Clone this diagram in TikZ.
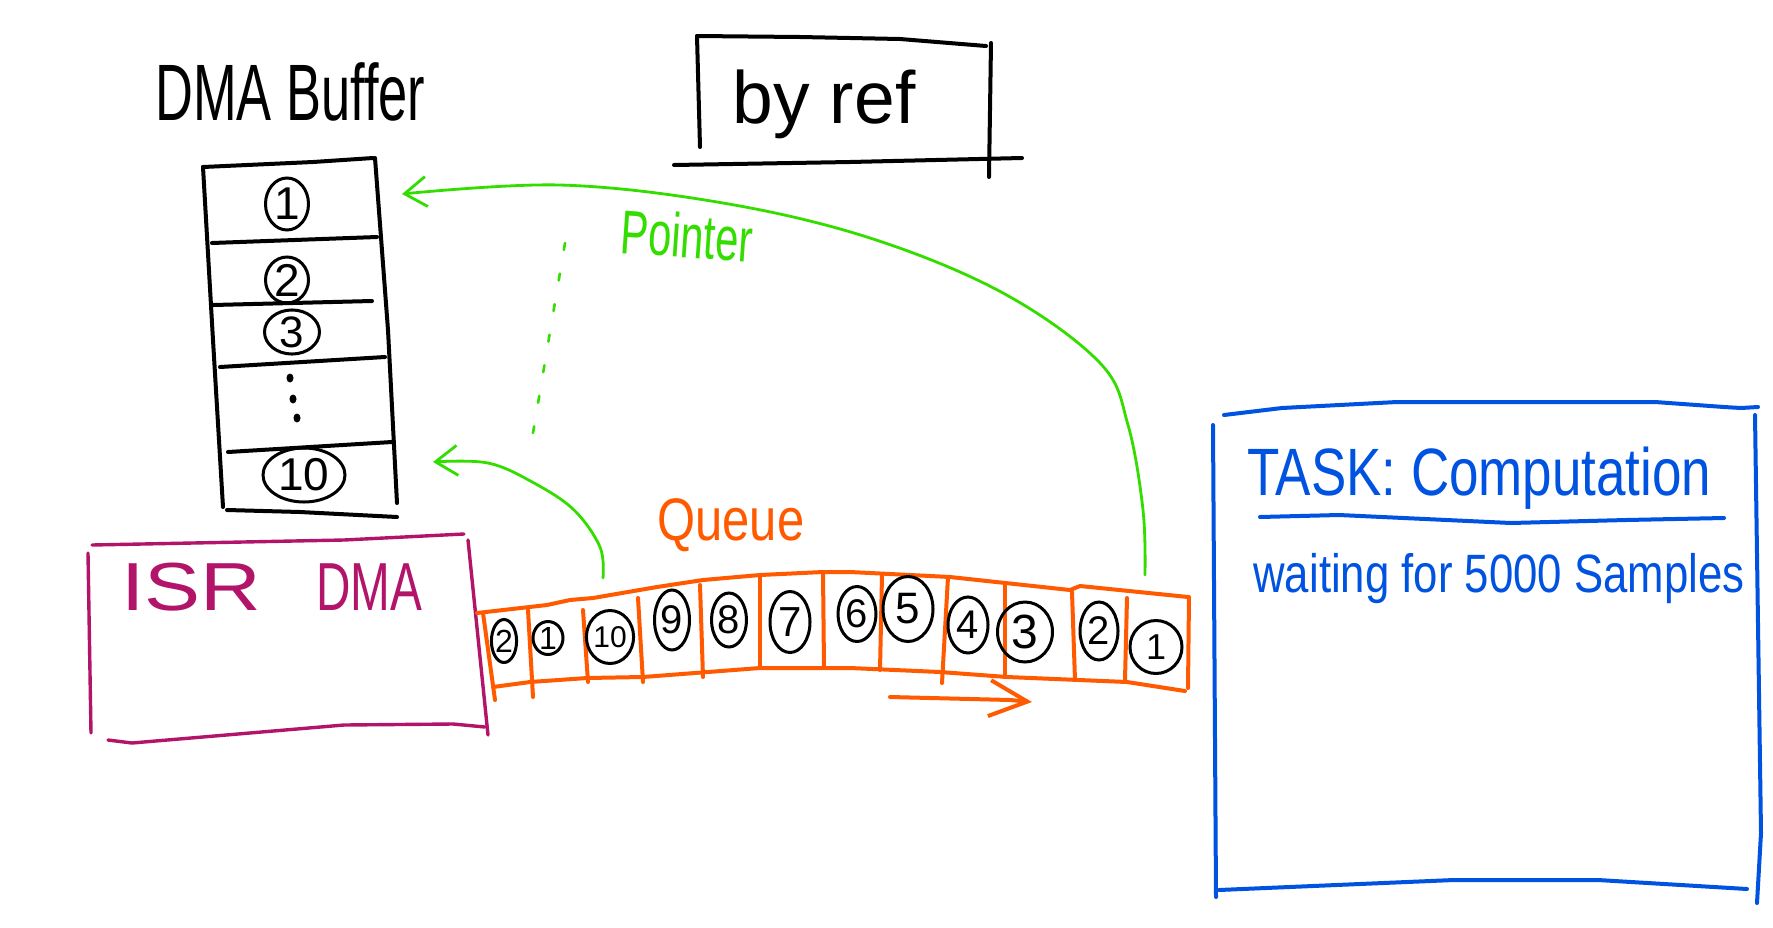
\documentclass[tikz,border=0pt]{standalone}
\usepackage{fontspec}
\setmainfont{Liberation Sans}
\usetikzlibrary{shapes.geometric,arrows.meta}
\definecolor{pgreen}{RGB}{51,221,0}
\definecolor{porange}{RGB}{255,90,0}
\definecolor{pmagenta}{RGB}{178,20,106}
\definecolor{pblue}{RGB}{0,82,224}
\newcommand\fitw[3]{\resizebox{#1}{\height}{\fontsize{#2}{#2}\selectfont #3}}
\tikzset{
  blk/.style={line width=2pt, black, line cap=round, line join=round},
  org/.style={line width=2pt, porange, line cap=round, line join=round},
  mag/.style={line width=1.7pt, pmagenta, line cap=round, line join=round},
  blu/.style={line width=2pt, pblue, line cap=round, line join=round},
  garrow/.style={line width=1.4pt, pgreen, line cap=round, line join=round,
    -{Straight Barb[length=11pt,width=15pt]}},
  oarrow/.style={line width=2pt, porange, line cap=round, line join=round,
    -{Straight Barb[length=19pt,width=18pt]}},
  num/.style={ellipse, draw, line width=1.5pt, inner sep=0pt, black},
  sz/.style 2 args={minimum width=#1*0.5pt, minimum height=#2*0.5pt},
  fs/.style={font=\fontsize{#1}{#1}\selectfont},
  dotn/.style={ellipse, fill=black, inner sep=0pt, minimum width=3.5pt, minimum height=4.5pt},
  txt/.style={anchor=base west, inner sep=0pt}
}
\begin{document}
\begin{tikzpicture}[x=0.5pt,y=-0.5pt]
\useasboundingbox[fill=white] (0,0) rectangle (1773,927);

% ---------- titles ----------
\node[txt] (dmabuf) at (155,120) {\fitw{135pt}{40}{DMA Buffer}};
\node[txt] (byref) at (732,123) {\fitw{91.5pt}{37}{by ref}};
\draw[blk] (697,36) -- (800,37) -- (900,39) -- (986,46);
\draw[blk] (697,36) -- (700,147);
\draw[blk] (991,43) -- (990,110) -- (989,177);
\draw[blk] (674,165) -- (850,162) -- (1022,158);

% ---------- DMA buffer ----------
\draw[blk] (203,167) -- (313,162) -- (373,158);
\draw[blk] (203,167) -- (213,340) -- (223,507);
\draw[blk] (375,158) -- (388,330) -- (397,503);
\draw[blk] (212,243) -- (377,237);
\draw[blk] (213,305) -- (372,301);
\draw[blk] (220,367) -- (385,357);
\draw[blk] (228,452) -- (392,442);
\draw[blk] (227,510) -- (300,512) -- (397,517);
\node[num, sz={43}{52}, fs=23] (b1) at (287,204) {1};
\node[num, sz={43}{46}, fs=23] (b2) at (287,280) {2};
\node[num, sz={55}{37}, fs=22] (b3) at (292,332) {3};
\node[dotn] (bd1) at (290,378) {};
\node[dotn] (bd2) at (293,399) {};
\node[dotn] (bd3) at (297,418) {};
\node[num, sz={82}{54}, fs=23] (b10) at (304,475) {10};
\coordinate (buf1in) at (402,194);
\coordinate (buf10in) at (433,462);

% ---------- pointer ----------
\node[txt, rotate=-4, pgreen] (pointer) at (619,253) {\fitw{66pt}{31}{Pointer}};
\coordinate (dotA) at (565,243);
\coordinate (dotB) at (533,433);
\draw[pgreen, line width=1.3pt, line cap=round, dash pattern=on 3.5pt off 12pt] (dotA) -- (dotB);

% ---------- ISR DMA ----------
\draw[mag] (92,545) -- (344,540) -- (464,534);
\draw[mag] (88,553) -- (91,733);
\draw[mag] (468,540) -- (488,735);
\draw[mag] (108,740) -- (132,743) -- (344,725) -- (453,724) -- (485,727);
\node[txt, pmagenta] (isr) at (121,610) {\fitw{70pt}{34}{ISR}\hspace{27.5pt}\fitw{53pt}{34}{DMA}};

% ---------- Queue ----------
\node[txt, porange] (queue) at (657,540) {\fitw{73.5pt}{30}{Queue}};
\draw[org] (477,613) -- (547,605) -- (570,600) -- (593,598) -- (657,587) -- (703,580)
  -- (760,575) -- (823,572) -- (850,572) -- (950,577) -- (1070,590) -- (1080,586) -- (1188,597);
\draw[org] (493,687) -- (530,682) -- (587,678) -- (643,677) -- (760,668) -- (850,668)
  -- (940,672) -- (1007,677) -- (1127,682) -- (1185,691);
\draw[org] (483,613) -- (495,700);
\draw[org] (528,610) -- (533,697);
\draw[org] (583,610) -- (588,682);
\draw[org] (638,598) -- (643,682);
\draw[org] (700,585) -- (703,677);
\draw[org] (760,577) -- (760,668);
\draw[org] (823,573) -- (824,667);
\draw[org] (882,575) -- (880,670);
\draw[org] (948,577) -- (942,683);
\draw[org] (1005,583) -- (1005,677);
\draw[org] (1072,592) -- (1075,680);
\draw[org] (1127,598) -- (1125,680);
\draw[org] (1189,597) -- (1188,688);
\node[num, sz={25}{43}, fs=16] (q12) at (504,641) {2};
\node[num, sz={30}{33}, fs=16] (q11) at (548,638) {1};
\node[num, sz={46}{53}, fs=15] (q10) at (610,637) {10};
\node[num, sz={35}{60}, fs=20] (q9) at (672,620) {9};
\node[num, sz={35}{54}, fs=20] (q8) at (729,620) {8};
\node[num, sz={40}{61}, fs=21] (q7) at (790,622) {7};
\node[num, sz={38}{55}, fs=20] (q6) at (857,614) {6};
\node[num, sz={50}{65}, fs=22] (q5) at (908,609) {5};
\node[num, sz={40}{56}, fs=20] (q4) at (968,625) {4};
\node[num, sz={55}{60}, fs=24] (q3) at (1025,632) {3};
\node[num, sz={38}{58}, fs=20] (q2) at (1099,631) {2};
\node[num, sz={52}{53}, fs=18] (q1) at (1156,647) {1};
\coordinate (oa1) at (890,697);
\coordinate (oa2) at (1032,702);
\draw[oarrow] (oa1) -- (1010,700) -- (oa2);

% ---------- green pointer arrows ----------
\coordinate (qtop1) at (1145,575);
\coordinate (qtop10) at (603,578);
\draw[garrow] plot[smooth, tension=0.6] coordinates {(qtop1) (1143,510) (1128,425)
  (1100,363) (1003,293) (870,238) (723,203) (560,185) (buf1in)};
\draw[garrow] plot[smooth, tension=0.6] coordinates {(qtop10) (600,547) (574,510) (534,483) (488,463) (buf10in)};

% ---------- Task box ----------
\draw[blu] (1224,415) -- (1282,408) -- (1397,402) -- (1655,402) -- (1724,407) -- (1741,408) -- (1758,407);
\draw[blu] (1213,425) -- (1216,897);
\draw[blu] (1755,415) -- (1761,833) -- (1757,903);
\draw[blu] (1219,890) -- (1454,880) -- (1598,880) -- (1747,889);
\node[txt, pblue] (task) at (1247,495) {\fitw{232pt}{33.5}{TASK: Computation}};
\draw[blu] (1260,517) -- (1339,515) -- (1511,523) -- (1626,520) -- (1724,518);
\node[txt, pblue] (wait) at (1253,592) {\fitw{245.5pt}{27}{waiting for 5000 Samples}};
\end{tikzpicture}
\end{document}
